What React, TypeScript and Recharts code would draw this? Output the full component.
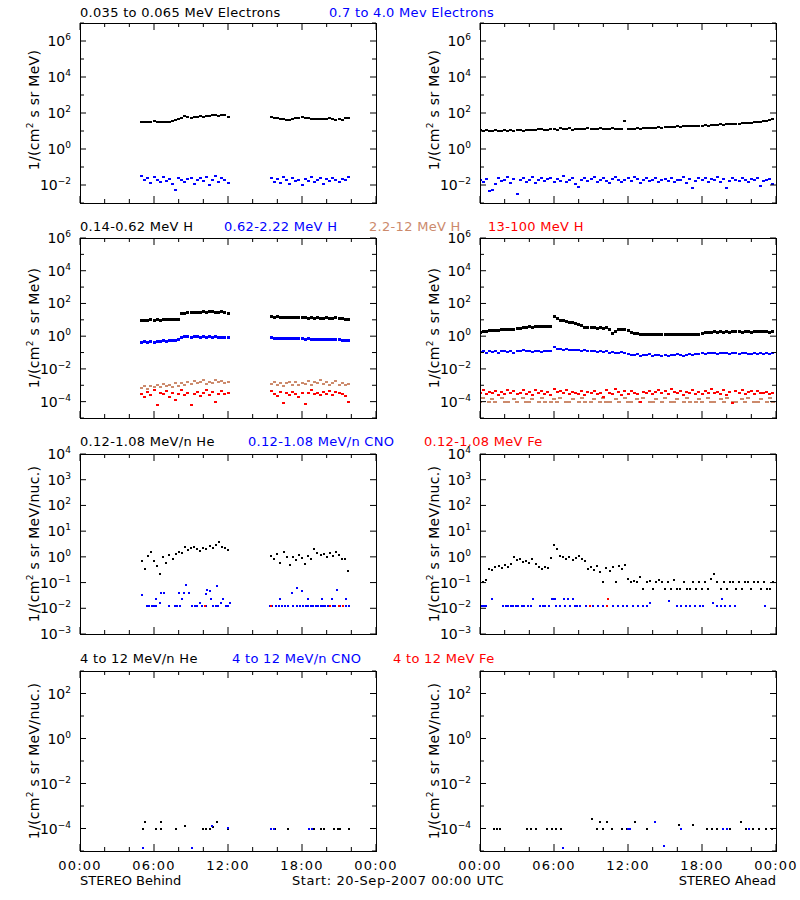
import React from 'react';
import { ScatterChart, Scatter, XAxis, YAxis } from 'recharts';

// ---------- time grid ----------
const STEP = 0.25; // hours between samples
const B1_START = 5.0; // STEREO Behind, first data segment start (h)
const B2_START = 15.5; // STEREO Behind, second data segment start (h)
const A_START = 0.0; // STEREO Ahead start (h)

const X_TICKS = [0, 2, 4, 6, 8, 10, 12, 14, 16, 18, 20, 22, 24];
const X_LABELS: Record<number, string> = { 0: '00:00', 6: '06:00', 12: '12:00', 18: '18:00', 24: '00:00' };

// ---------- Row 1: electrons ----------
const ELEC_B_BLACK_1 = [30, 30, 33, 30, 34, 33, 31, 30, 31, 30, 34, 39, 48, 55, 65, 60, 55, 60, 60, 65, 62, 70, 65, 77, 80, 65, 77, 80, 60];
const ELEC_B_BLACK_2 = [57, 50, 50, 48, 48, 43, 39, 48, 53, 50, 57, 53, 50, 48, 48, 44, 48, 48, 46, 50, 48, 43, 46, 39, 50, 50];
const ELEC_B_BLUE_1 = [0.031, 0.019, 0.024, 0.013, 0.027, 0.020, 0.015, 0.029, 0.017, 0.022, 0.011, 0.005, 0.025, 0.018, 0.014, 0.021, 0.026, 0.012, 0.019, 0.023, 0.016, 0.028, 0.010, 0.020, 0.032, 0.014, 0.024, 0.018, 0.013];
const ELEC_B_BLUE_2 = [0.026, 0.015, 0.021, 0.013, 0.028, 0.018, 0.011, 0.024, 0.016, 0.020, 0.010, 0.022, 0.017, 0.027, 0.014, 0.019, 0.023, 0.012, 0.021, 0.016, 0.025, 0.018, 0.014, 0.022, 0.019, 0.027];
const ELEC_A_BLACK = [
  11, 10, 11, 9.5, 10.5, 11, 9.8, 10, 11.5, 10.5, 11, 10,
  12, 11, 10.5, 11.5, 12, 11, 12, 12.5, 13, 11.5, 12, 12.5,
  13, 12, 14, 12.5, 13, 14, 12, 13, 13.5, 12.5, 13, 14,
  13, 12.5, 13.5, 14, 13, 12.5, 13, 14, 13.5, 12.5, 13, 38,
  13, 13.5, 13, 14, 13.5, 14, 14.5, 15, 14, 15, 16, 15,
  16, 17, 16, 17, 18, 17, 18, 19, 18, 19, 20, 19,
  20, 21, 20, 22, 21, 22, 23, 22, 24, 23, 24, 25,
  26, 27, 28, 28, 29, 30, 31, 32, 34, 36, 40, 46,
];
const ELEC_A_BLUE = [
  0.018, 0.014, 0.022, 0.0048, 0.0052, 0.012, 0.025, 0.016, 0.019, 0.028, 0.013, 0.021,
  0.0032, 0.018, 0.024, 0.015, 0.020, 0.027, 0.013, 0.019, 0.023, 0.016, 0.021, 0.026,
  0.014, 0.022, 0.017, 0.030, 0.015, 0.020, 0.024, 0.012, 0.0075, 0.019, 0.023, 0.016,
  0.021, 0.028, 0.014, 0.019, 0.025, 0.017, 0.013, 0.022, 0.027, 0.018, 0.015, 0.020,
  0.024, 0.016, 0.029, 0.021, 0.013, 0.018, 0.023, 0.017, 0.020, 0.026, 0.015, 0.019,
  0.022, 0.017, 0.024, 0.014, 0.020, 0.018, 0.027, 0.013, 0.021, 0.0068, 0.016, 0.023,
  0.019, 0.025, 0.015, 0.021, 0.018, 0.028, 0.014, 0.022, 0.0065, 0.017, 0.024, 0.019,
  0.016, 0.023, 0.020, 0.014, 0.021, 0.018, 0.025, 0.0085, 0.017, 0.020, 0.022, 0.012,
];

// ---------- Row 2: protons ----------
const H_B_BLACK_1 = [9, 9.5, 9, 10, 9.5, 10, 9.5, 10, 10.5, 10, 11, 10.5, 11, 24, 26, 27, 28, 28, 29, 30, 31, 30, 32, 31, 30, 29, 31, 28, 24];
const H_B_BLACK_2 = [15, 14.5, 15, 14, 14.5, 14, 13, 13.5, 14, 13.5, 13, 13.5, 12.5, 13, 12.5, 13, 12, 12.5, 13, 12, 12.5, 13, 12, 11.5, 11, 11];
const H_B_BLUE_1 = [0.42, 0.45, 0.40, 0.47, 0.44, 0.50, 0.46, 0.52, 0.48, 0.55, 0.52, 0.58, 0.62, 0.85, 0.92, 0.90, 0.88, 0.93, 0.90, 0.87, 0.91, 0.89, 0.92, 0.88, 0.90, 0.86, 0.89, 0.87, 0.80];
const H_B_BLUE_2 = [0.78, 0.74, 0.77, 0.72, 0.75, 0.70, 0.73, 0.71, 0.74, 0.68, 0.70, 0.66, 0.69, 0.65, 0.67, 0.63, 0.66, 0.62, 0.64, 0.60, 0.63, 0.59, 0.61, 0.57, 0.58, 0.55];
const H_B_TAN_1 = [0.0007, 0.00085, 0.0006, 0.00095, 0.00075, 0.0011, 0.0008, 0.0012, 0.0009, 0.001, 0.00078, 0.0013, 0.00095, 0.0014, 0.0011, 0.0016, 0.0012, 0.0018, 0.0013, 0.0015, 0.002, 0.0012, 0.0017, 0.0014, 0.0021, 0.0015, 0.0018, 0.0013, 0.0016];
const H_B_TAN_2 = [0.0012, 0.0016, 0.001, 0.0014, 0.0009, 0.0013, 0.0017, 0.0011, 0.0015, 0.001, 0.0014, 0.0012, 0.0018, 0.0011, 0.0015, 0.0013, 0.002, 0.0012, 0.0016, 0.001, 0.0014, 0.0018, 0.0011, 0.0013, 0.001, 0.0012];
const H_B_RED_1 = [0.0003, 0.00018, 0.00038, 0.00025, 0.00055, 0.00006, 0.00032, 0.00028, 0.00042, 0.0002, 0.00035, 0.00012, 0.0003, 0.00048, 0.00026, 0.00036, 0.00006, 0.00029, 0.0004, 0.00022, 0.00033, 0.00052, 0.00027, 0.00038, 0.00009, 0.00031, 0.00044, 0.00028, 0.00032];
const H_B_RED_2 = [0.00045, 0.0003, 0.00022, 0.00038, 0.00008, 0.00034, 0.00027, 0.00041, 0.00031, 0.00019, 0.00036, 0.00007, 0.00033, 0.0005, 0.00028, 0.00035, 0.00024, 0.00039, 0.0003, 0.00043, 0.00026, 0.00037, 0.00032, 0.00029, 0.00021, 0.0001];
const H_A_BLACK = [
  1.8, 1.9, 2.0, 2.1, 2.2, 2.3, 2.2, 2.4, 2.5, 2.6, 2.7, 2.6,
  2.9, 3.1, 3.3, 3.6, 3.8, 3.5, 3.9, 4.0, 3.7, 3.8, 3.9, 4.1,
  16, 12, 9, 8.5, 7.5, 7, 6.8, 6.2, 5.5, 4.5, 3.5, 3.3,
  3.2, 3.4, 3.1, 3.3, 3.0, 3.2, 2.5, 1.5, 2.0, 2.4, 2.7, 2.5,
  2.2, 1.8, 1.5, 1.4, 1.3, 1.35, 1.3, 1.25, 1.3, 1.35, 1.3, 1.2,
  1.25, 1.3, 1.2, 1.25, 1.3, 1.2, 1.25, 1.3, 1.25, 1.2, 1.3, 1.25,
  1.4, 1.6, 1.7, 1.8, 1.9, 1.8, 1.9, 1.8, 1.85, 1.8, 1.9, 1.85,
  1.9, 1.8, 1.85, 1.9, 1.8, 2.0, 1.9, 1.85, 1.95, 1.9, 1.8, 1.85,
];
const H_A_BLUE = [
  0.11, 0.12, 0.10, 0.13, 0.11, 0.12, 0.095, 0.12, 0.13, 0.11, 0.12, 0.10,
  0.13, 0.12, 0.14, 0.12, 0.13, 0.11, 0.12, 0.13, 0.115, 0.12, 0.13, 0.12,
  0.22, 0.17, 0.16, 0.15, 0.16, 0.15, 0.14, 0.15, 0.14, 0.13, 0.14, 0.13,
  0.12, 0.13, 0.11, 0.12, 0.11, 0.12, 0.10, 0.11, 0.09, 0.10, 0.11, 0.09,
  0.085, 0.075, 0.07, 0.08, 0.065, 0.075, 0.07, 0.08, 0.065, 0.07, 0.075, 0.065,
  0.07, 0.065, 0.075, 0.07, 0.08, 0.07, 0.065, 0.075, 0.08, 0.07, 0.085, 0.08,
  0.09, 0.085, 0.095, 0.09, 0.10, 0.085, 0.095, 0.10, 0.09, 0.085, 0.095, 0.09,
  0.08, 0.095, 0.09, 0.085, 0.08, 0.09, 0.085, 0.095, 0.08, 0.09, 0.085, 0.09,
];
const H_A_TAN = [
  0.0001, 0.00017, null, 0.0001, 0.00014, 0.0001, null, 0.00017, 0.0001, 0.0001, null, 0.00014,
  0.0001, null, 0.00017, 0.0001, 0.0001, 0.00014, null, 0.0001, 0.00017, 0.0001, null, 0.0001,
  0.00014, 0.0001, 0.00017, null, 0.0001, 0.0001, 0.00014, null, 0.0001, 0.00017, 0.0001, null,
  0.0001, 0.00014, null, 0.0001, 0.00017, 0.0001, 0.0001, null, 0.00014, 0.0001, null, 0.00017,
  0.0001, 0.0001, null, 0.00014, 0.0001, 0.00017, null, 0.0001, 0.0001, 0.00014, null, 0.0001,
  0.00017, null, 0.0001, 0.0001, 0.00014, null, 0.0001, 0.00017, 0.0001, null, 0.0001, 0.00014,
  0.0001, null, 0.00017, 0.0001, 0.0001, null, 0.00014, 0.0001, 0.00017, null, 0.0001, 0.0001,
  null, 0.00014, 0.0001, 0.00017, null, 0.0001, 0.0001, 0.00014, null, 0.0001, 0.00017, 0.0001,
];
const H_A_RED = [
  0.00035, 0.0005, 0.00028, 0.0004, 0.00032, 0.00045, 0.00025, 0.00038, 0.0003, 0.00055, 0.00033, 0.00042,
  0.00029, 0.00036, 0.00048, 0.00031, 0.0004, 0.00027, 0.00052, 0.00034, 0.00044, 0.0003, 0.00038, 0.00026,
  0.0006, 0.00037, 0.00045, 0.00032, 0.00049, 0.00028, 0.00041, 0.00035, 0.00031, 0.00043, 0.00027, 0.00038,
  0.00033, 0.00046, 0.00029, 0.00036, 0.00018, 0.0005, 0.00034, 0.0003, 0.00058, 0.00037, 0.00026, 0.00042,
  0.00031, 0.00047, 0.00036, 0.00028, 0.00009, 0.0004, 0.00033, 0.00045, 0.00029, 0.00038, 0.00052, 0.00034,
  0.00043, 0.0003, 0.00056, 0.00037, 0.00032, 0.00046, 0.00027, 0.00039, 0.00035, 0.00048, 0.0003, 0.00041,
  0.00028, 0.00044, 0.00036, 0.0006, 0.00033, 0.0004, 0.00031, 0.00049, 0.00026, 0.00037, 0.00008, 0.00045,
  0.00034, 0.00051, 0.0003, 0.00039, 0.00042, 0.00029, 0.00047, 0.00035, 0.00033, 0.0004, 0.00031, 0.00036,
];

// ---------- Row 3: 0.12-1.08 MeV/n heavy ions ----------
const HE_B_BLACK_1 = [0.68, 0.35, 1.1, 1.5, 0.7, 0.45, 0.22, 0.95, 0.6, 1.2, 0.85, 1.3, 1.5, 1.4, 2.4, 1.9, 2.2, 2.5, 2.0, 1.7, 2.3, 2.1, 2.6, 2.2, 2.8, 3.8, 2.5, 2.3, 1.9];
const HE_B_BLACK_2 = [1.1, 0.85, 1.3, 0.6, 1.5, 0.95, 0.47, 1.0, 0.75, 1.2, 0.9, 0.55, 1.1, 0.8, 2.1, 1.4, 1.2, 1.3, 0.95, 1.4, 1.1, 1.5, 1.2, 0.85, 0.8, 0.28];
const HE_A_BLACK = [
  0.16, 0.11, 0.13, 0.35, 0.3, 0.4, 0.45, 0.38, 0.5, 0.42, 0.55, 1.0,
  0.75, 0.8, 0.65, 0.7, 0.6, 0.85, 0.55, 0.4, 0.35, 0.42, 0.38, 0.9,
  2.8, 2.0, 1.1, 0.95, 0.8, 1.0, 0.75, 0.9, 1.1, 0.85, 0.7, 0.35,
  0.4, 0.3, 0.45, 0.25, 0.11, 0.38, 0.28, 0.4, 0.11, 0.45, 0.33, 0.5,
  0.14, 0.11, 0.12, 0.11, 0.17, 0.055, 0.11, 0.12, 0.055, 0.11, 0.13, 0.11,
  0.055, 0.11, 0.055, 0.13, 0.055, 0.055, 0.11, 0.055, 0.055, 0.11, 0.055, 0.11,
  0.055, 0.11, 0.055, 0.14, 0.22, 0.11, 0.055, 0.11, 0.055, 0.11, 0.11, 0.055,
  0.11, 0.055, 0.11, 0.11, 0.055, 0.11, 0.11, 0.055, 0.11, 0.055, 0.055, 0.11,
];
// [hour, value] pairs for the sparse series
const CNO_B: [number, number][] = [
  [5.0, 0.032], [5.4, 0.012], [5.6, 0.012], [5.8, 0.012], [6.0, 0.012], [6.2, 0.012], [6.2, 0.024], [6.5, 0.016],
  [6.6, 0.038], [6.8, 0.038], [7.2, 0.012], [7.7, 0.012], [7.9, 0.012], [8.0, 0.038], [8.1, 0.012], [8.3, 0.024],
  [8.4, 0.038], [8.6, 0.079], [8.8, 0.038], [9.1, 0.012], [9.3, 0.012], [9.5, 0.012], [9.7, 0.016], [9.9, 0.012],
  [10.2, 0.035], [10.2, 0.012], [10.3, 0.05], [10.5, 0.045], [10.6, 0.024], [10.8, 0.012], [11.0, 0.012], [11.1, 0.075],
  [11.2, 0.012], [11.4, 0.016], [11.6, 0.024], [11.8, 0.012], [12.0, 0.012], [12.2, 0.016],
  [15.4, 0.012], [15.6, 0.012], [15.9, 0.012], [16.1, 0.012], [16.2, 0.024], [16.4, 0.012], [16.6, 0.012], [16.9, 0.012],
  [17.2, 0.038], [17.3, 0.012], [17.6, 0.06], [17.6, 0.012], [17.8, 0.012], [18.0, 0.045], [18.1, 0.012], [18.3, 0.012],
  [18.5, 0.024], [18.5, 0.012], [18.7, 0.012], [18.9, 0.012], [19.1, 0.012], [19.3, 0.012], [19.5, 0.012], [19.6, 0.024],
  [19.7, 0.012], [19.9, 0.012], [20.1, 0.012], [20.4, 0.024], [20.5, 0.012], [20.7, 0.012], [20.8, 0.05], [21.1, 0.012],
  [21.6, 0.024], [21.6, 0.012], [21.8, 0.012],
];
const FE_B: [number, number][] = [[10.1, 0.012], [15.5, 0.012], [20.3, 0.012], [21.0, 0.012], [21.35, 0.012]];
const CNO_A: [number, number][] = [
  [0.05, 0.012], [0.2, 0.012], [0.35, 0.012], [0.5, 0.012], [1.0, 0.024], [1.9, 0.012], [2.1, 0.012], [2.3, 0.012],
  [2.5, 0.012], [2.7, 0.012], [2.9, 0.012], [3.1, 0.012], [3.4, 0.012], [3.6, 0.012], [3.9, 0.012], [4.1, 0.012],
  [4.3, 0.024], [4.9, 0.012], [5.1, 0.012], [5.3, 0.012], [5.6, 0.012], [5.8, 0.024], [5.9, 0.024], [6.05, 0.024],
  [6.2, 0.012], [6.5, 0.012], [6.8, 0.024], [6.9, 0.012], [7.1, 0.024], [7.3, 0.012], [7.5, 0.024], [7.7, 0.012],
  [7.9, 0.012], [8.1, 0.012], [8.6, 0.012], [8.9, 0.012], [9.2, 0.012], [9.6, 0.012], [10.0, 0.012], [10.8, 0.012],
  [11.2, 0.012], [11.6, 0.012], [11.9, 0.012], [12.4, 0.012], [12.8, 0.012], [13.2, 0.012], [13.5, 0.012], [13.8, 0.016],
  [15.3, 0.02], [16.0, 0.012], [16.3, 0.012], [16.7, 0.012], [17.0, 0.012], [17.4, 0.012], [17.8, 0.012], [18.1, 0.012],
  [18.9, 0.016], [19.2, 0.012], [19.5, 0.012], [19.6, 0.024], [19.9, 0.012], [20.3, 0.012], [20.7, 0.012], [23.1, 0.012],
];
const FE_A: [number, number][] = [[8.9, 0.012], [10.3, 0.012], [10.4, 0.024]];

// ---------- Row 4: 4-12 MeV/n ----------
const HE4_B: [number, number][] = [
  [5.1, 1e-4], [5.3, 2e-4], [6.2, 1e-4], [6.6, 1e-4], [6.6, 2e-4], [7.8, 1e-4], [8.5, 1.3e-4], [10.0, 1e-4],
  [10.2, 1e-4], [10.5, 1e-4], [10.7, 1.3e-4], [10.8, 1.2e-4], [11.1, 2e-4], [12.0, 1e-4], [15.5, 1e-4], [15.8, 1e-4],
  [16.9, 1e-4], [18.6, 1e-4], [19.0, 1e-4], [19.5, 1e-4], [19.8, 1e-4], [20.6, 1e-4], [20.9, 1e-4], [21.1, 1e-4], [21.8, 1e-4],
];
const CNO4_B: [number, number][] = [
  [5.1, 1.3e-5], [9.1, 1.3e-5], [10.7, 1.3e-4], [12.0, 1.1e-4], [15.5, 1e-4], [15.7, 1e-4], [18.6, 1e-4], [18.8, 1e-4],
];
const HE4_A: [number, number][] = [
  [1.1, 1e-4], [1.4, 1e-4], [1.6, 1e-4], [3.8, 1e-4], [4.1, 1e-4], [4.5, 1e-4], [5.4, 1e-4], [5.8, 1e-4],
  [6.2, 1e-4], [6.6, 1e-4], [9.05, 2.6e-4], [9.5, 1e-4], [9.7, 2e-4], [10.0, 1e-4], [10.3, 2e-4], [10.7, 1e-4],
  [11.5, 1e-4], [11.9, 1e-4], [12.2, 1e-4], [12.6, 2e-4], [13.5, 1e-4], [16.1, 1.4e-4], [17.3, 1.4e-4], [18.4, 1e-4],
  [18.8, 1e-4], [19.2, 1e-4], [19.7, 1e-4], [20.3, 1e-4], [21.2, 2e-4], [21.6, 1e-4], [22.1, 1e-4], [22.6, 1e-4],
  [23.2, 1e-4], [23.7, 1e-4],
];
const CNO4_A: [number, number][] = [
  [6.7, 1.3e-5], [12.0, 1e-4], [12.2, 1e-4], [14.2, 2e-4], [14.9, 1.6e-5], [16.3, 1e-4], [19.7, 1e-4], [20.0, 1e-4], [21.8, 1e-4],
];

// ---------- styling ----------
const FONT = '"DejaVu Sans", sans-serif';
const BLACK = '#000000';
const BLUE = '#0000FF';
const RED = '#FF0000';
const TAN = '#CC8A6C';

const PL = 80, PR = 376, PT = 10, PB = 190; // plot box inside each chart

type Pt = { t: number; v: number };
const seg = (start: number, vals: (number | null)[]): Pt[] =>
  vals.map((v, i) => ({ t: start + i * STEP, v })).filter((p) => p.v != null) as Pt[];
const pairs = (arr: [number, number][]): Pt[] => arr.map(([t, v]) => ({ t, v }));

type Series = { data: Pt[]; color: string; w: number; h: number };

function XTick(props: any) {
  const { x, payload, showX } = props;
  const v = payload.value;
  const major = v % 6 === 0;
  const len = major ? 7 : 4;
  return (
    <g>
      <line x1={x} x2={x} y1={PB} y2={PB - len} stroke="#000" />
      <line x1={x} x2={x} y1={PT} y2={PT + len} stroke="#000" />
      {showX && major && (
        <text x={x} y={PB + 19} textAnchor="middle" fontSize={13} fontFamily={FONT} fill="#000" letterSpacing={1.2}>
          {X_LABELS[v]}
        </text>
      )}
    </g>
  );
}

function YTick(props: any) {
  const { y, payload, labelExps } = props;
  const e = Math.round(Math.log10(payload.value));
  const major = labelExps.includes(e);
  const len = major ? 6 : 4;
  return (
    <g>
      <line x1={PL} x2={PL + len} y1={y} y2={y} stroke="#000" />
      <line x1={PR - len} x2={PR} y1={y} y2={y} stroke="#000" />
      {major && (
        <text x={PL - 9} y={y + 5} textAnchor="end" fontSize={14} fontFamily={FONT} fill="#000">
          10
          <tspan dy={-6} fontSize={9}>{e < 0 ? '\u2212' + -e : String(e)}</tspan>
        </text>
      )}
    </g>
  );
}

function Panel({ col, top, lo, hi, labelExps, series, showX }: { col: number; top: number; lo: number; hi: number; labelExps: number[]; series: Series[]; showX?: boolean }) {
  const exps: number[] = [];
  for (let e = lo; e <= hi; e++) exps.push(e);
  const yTicks = exps.map((e) => Math.pow(10, e));
  return (
    <div style={{ position: 'absolute', left: col * 400, top: top - PT, width: 400, height: 220 }}>
      <ScatterChart width={400} height={220} margin={{ top: PT, right: 24, bottom: 0, left: 20 }}>
        <XAxis
          type="number"
          dataKey="t"
          domain={[0, 24]}
          ticks={X_TICKS}
          interval={0}
          allowDataOverflow
          tickLine={false}
          axisLine={false}
          height={30}
          tick={(p: any) => <XTick {...p} showX={!!showX} />}
        />
        <YAxis
          type="number"
          dataKey="v"
          scale="log"
          domain={[yTicks[0], yTicks[yTicks.length - 1]]}
          ticks={yTicks}
          interval={0}
          allowDataOverflow
          tickLine={false}
          axisLine={false}
          width={60}
          tick={(p: any) => <YTick {...p} labelExps={labelExps} />}
        />
        {series.map((s, i) => (
          <Scatter
            key={i}
            data={s.data}
            fill={s.color}
            isAnimationActive={false}
            shape={(p: any) => (
              <rect x={p.cx - s.w / 2} y={p.cy - s.h / 2} width={s.w} height={s.h} fill={s.color} shapeRendering="crispEdges" />
            )}
          />
        ))}
      </ScatterChart>
      <div
        style={{
          position: 'absolute', left: PL, top: PT, width: PR - PL + 1, height: PB - PT + 1,
          border: '1px solid #000', boxSizing: 'border-box', pointerEvents: 'none',
        }}
      />
    </div>
  );
}

function Title({ x, y, color, text }: { x: number; y: number; color: string; text: string }) {
  return (
    <div style={{ position: 'absolute', left: x, top: y - 9, color, fontSize: 13, lineHeight: '15px', whiteSpace: 'nowrap', letterSpacing: 0.3 }}>
      {text}
    </div>
  );
}

function YLabel({ x, y, unit }: { x: number; y: number; unit: string }) {
  return (
    <div
      style={{
        position: 'absolute', left: x, top: y, transform: 'translate(-50%, -50%) rotate(-90deg)',
        fontSize: 14, lineHeight: '16px', whiteSpace: 'nowrap', letterSpacing: 0.3,
      }}
    >
      1/(cm<span style={{ fontSize: 9, verticalAlign: 6 }}>2</span> s sr {unit})
    </div>
  );
}

const ROW_TOPS = [23, 238, 454, 671];

export default function App() {
  const s = (data: Pt[], color: string, w = 2, h = 2): Series => ({ data, color, w, h });
  const row1B = [
    s(seg(B1_START, ELEC_B_BLACK_1), BLACK, 3, 2), s(seg(B2_START, ELEC_B_BLACK_2), BLACK, 3, 2),
    s(seg(B1_START, ELEC_B_BLUE_1), BLUE, 3, 2), s(seg(B2_START, ELEC_B_BLUE_2), BLUE, 3, 2),
  ];
  const row1A = [s(seg(A_START, ELEC_A_BLACK), BLACK, 3, 2), s(seg(A_START, ELEC_A_BLUE), BLUE, 3, 2)];
  const row2B = [
    s(seg(B1_START, H_B_TAN_1), TAN, 3, 2), s(seg(B2_START, H_B_TAN_2), TAN, 3, 2),
    s(seg(B1_START, H_B_RED_1), RED, 3, 2), s(seg(B2_START, H_B_RED_2), RED, 3, 2),
    s(seg(B1_START, H_B_BLACK_1), BLACK, 3, 3), s(seg(B2_START, H_B_BLACK_2), BLACK, 3, 3),
    s(seg(B1_START, H_B_BLUE_1), BLUE, 3, 3), s(seg(B2_START, H_B_BLUE_2), BLUE, 3, 3),
  ];
  const row2A = [
    s(seg(A_START, H_A_TAN), TAN, 4, 2), s(seg(A_START, H_A_RED), RED, 3, 2),
    s(seg(A_START, H_A_BLACK), BLACK, 3, 3), s(seg(A_START, H_A_BLUE), BLUE, 3, 2),
  ];
  const row3B = [
    s(seg(B1_START, HE_B_BLACK_1), BLACK, 2, 2), s(seg(B2_START, HE_B_BLACK_2), BLACK, 2, 2),
    s(pairs(CNO_B), BLUE, 2, 2), s(pairs(FE_B), RED, 2, 2),
  ];
  const row3A = [s(seg(A_START, HE_A_BLACK), BLACK, 2, 2), s(pairs(CNO_A), BLUE, 2, 2), s(pairs(FE_A), RED, 2, 2)];
  const row4B = [s(pairs(HE4_B), BLACK, 2, 2), s(pairs(CNO4_B), BLUE, 2, 2)];
  const row4A = [s(pairs(HE4_A), BLACK, 2, 2), s(pairs(CNO4_A), BLUE, 2, 2)];

  const even6 = [-2, 0, 2, 4, 6];
  const even6b = [-4, -2, 0, 2, 4, 6];
  const all3 = [-3, -2, -1, 0, 1, 2, 3, 4];
  const even2 = [-4, -2, 0, 2];

  return (
    <div style={{ position: 'absolute', left: 0, top: 0, width: 800, height: 900, background: '#fff', fontFamily: FONT, color: '#000' }}>
      <Title x={80} y={14} color={BLACK} text="0.035 to 0.065 MeV Electrons" />
      <Title x={329} y={14} color={BLUE} text="0.7 to 4.0 Mev Electrons" />
      <Title x={80} y={228} color={BLACK} text="0.14-0.62 MeV H" />
      <Title x={224} y={228} color={BLUE} text="0.62-2.22 MeV H" />
      <Title x={369} y={228} color={TAN} text="2.2-12 MeV H" />
      <Title x={488} y={228} color={RED} text="13-100 MeV H" />
      <Title x={80} y={443} color={BLACK} text="0.12-1.08 MeV/n He" />
      <Title x={248} y={443} color={BLUE} text="0.12-1.08 MeV/n CNO" />
      <Title x={424} y={443} color={RED} text="0.12-1.08 MeV Fe" />
      <Title x={80} y={660} color={BLACK} text="4 to 12 MeV/n He" />
      <Title x={232} y={660} color={BLUE} text="4 to 12 MeV/n CNO" />
      <Title x={393} y={660} color={RED} text="4 to 12 MeV Fe" />

      <Panel col={0} top={ROW_TOPS[0]} lo={-3} hi={7} labelExps={even6} series={row1B} />
      <Panel col={1} top={ROW_TOPS[0]} lo={-3} hi={7} labelExps={even6} series={row1A} />
      <Panel col={0} top={ROW_TOPS[1]} lo={-5} hi={6} labelExps={even6b} series={row2B} />
      <Panel col={1} top={ROW_TOPS[1]} lo={-5} hi={6} labelExps={even6b} series={row2A} />
      <Panel col={0} top={ROW_TOPS[2]} lo={-3} hi={4} labelExps={all3} series={row3B} />
      <Panel col={1} top={ROW_TOPS[2]} lo={-3} hi={4} labelExps={all3} series={row3A} />
      <Panel col={0} top={ROW_TOPS[3]} lo={-5} hi={3} labelExps={even2} series={row4B} showX />
      <Panel col={1} top={ROW_TOPS[3]} lo={-5} hi={3} labelExps={even2} series={row4A} showX />

      <YLabel x={32} y={110} unit="MeV" />
      <YLabel x={432} y={110} unit="MeV" />
      <YLabel x={32} y={328} unit="MeV" />
      <YLabel x={432} y={328} unit="MeV" />
      <YLabel x={32} y={544} unit="MeV/nuc." />
      <YLabel x={432} y={544} unit="MeV/nuc." />
      <YLabel x={32} y={761} unit="MeV/nuc." />
      <YLabel x={432} y={761} unit="MeV/nuc." />

      <div style={{ position: 'absolute', left: 80, top: 873, fontSize: 13, lineHeight: '16px', whiteSpace: 'nowrap' }}>STEREO Behind</div>
      <div style={{ position: 'absolute', left: 292, top: 873, fontSize: 13, lineHeight: '16px', whiteSpace: 'nowrap', letterSpacing: 0.6 }}>Start: 20-Sep-2007 00:00 UTC</div>
      <div style={{ position: 'absolute', right: 24, top: 873, fontSize: 13, lineHeight: '16px', whiteSpace: 'nowrap' }}>STEREO Ahead</div>
    </div>
  );
}
